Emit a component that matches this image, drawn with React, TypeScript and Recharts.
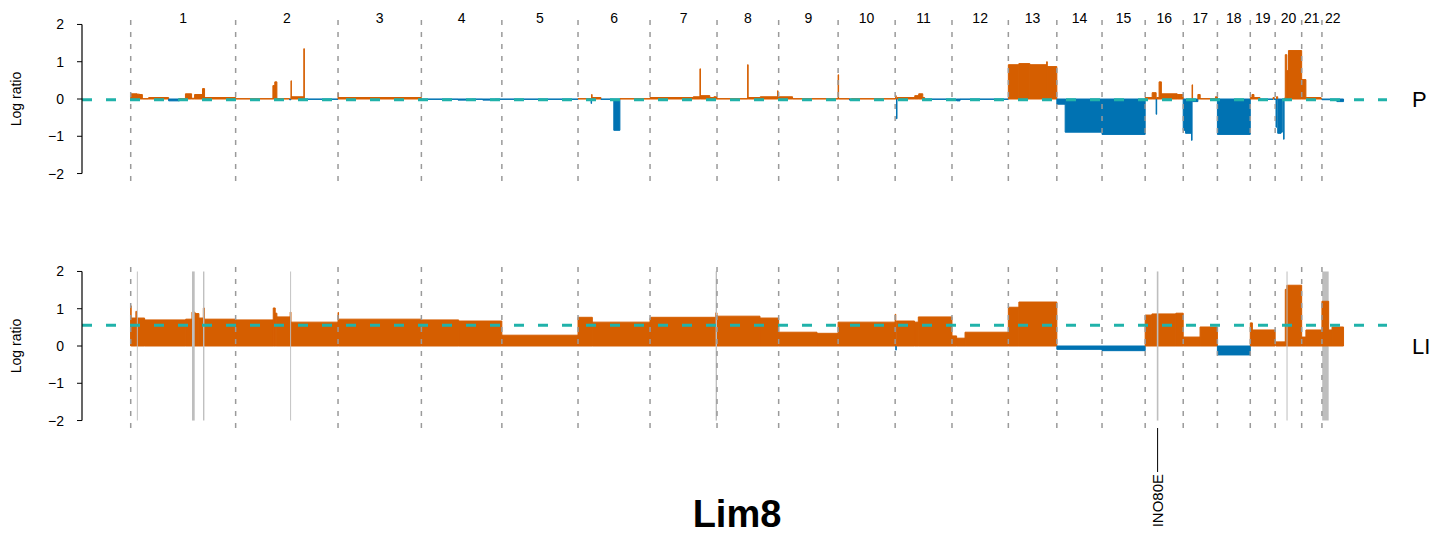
import React from 'react';
import { ComposedChart, XAxis, YAxis, ReferenceArea, ReferenceLine } from 'recharts';

// ---------- data ----------
const CHROMS = ['1','2','3','4','5','6','7','8','9','10','11','12','13','14','15','16','17','18','19','20','21','22'];
const CHROM_LENGTHS = [249.25, 243.2, 198.0, 191.15, 180.9, 171.1, 159.1, 146.4, 141.2, 135.5, 135.0, 133.85, 115.2, 107.35, 102.5, 90.35, 81.2, 78.1, 59.1, 63.0, 48.1, 51.3];
const Y_TICKS = [-2, -1, 0, 1, 2];
const SAMPLE_NAMES = ['P', 'LI'];
const BASELINES = [-0.02, 0.56];
const TITLE = 'Lim8';

type Seg = [string, number, number, number];
type Region = [string, number, number];

// [chromosome, start Mb, end Mb, log ratio]
const P_SEGMENTS: Seg[] = [
  ['1', 0, 15, 0.14], ['1', 15, 21, 0.13], ['1', 21, 27.7, 0.12], ['1', 27.7, 42.7, 0.01], ['1', 42.7, 90, 0.04],
  ['1', 90, 116, -0.05], ['1', 116, 130, 0.01], ['1', 130, 144.6, 0.14], ['1', 144.6, 151.7, 0.02],
  ['1', 151.7, 170.6, 0.12], ['1', 170.6, 175.4, 0.28], ['1', 175.4, 249.25, 0.04],
  ['2', 0, 88.5, 0.01], ['2', 88.5, 93, 0.36], ['2', 93, 98, 0.46], ['2', 98, 128, 0.01], ['2', 128, 131.5, -0.02],
  ['2', 131.5, 132.3, 0.49], ['2', 132.3, 162, 0.06], ['2', 162, 163.2, 1.35], ['2', 163.2, 243.2, -0.01],
  ['3', 0, 1.2, 0.16], ['3', 1.2, 198, 0.04],
  ['4', 0, 87, -0.01], ['4', 87, 118.5, -0.03], ['4', 118.5, 146, -0.01], ['4', 146, 174, -0.03], ['4', 174, 191.15, -0.01],
  ['5', 0, 180.9, -0.01],
  ['6', 0, 31, 0.01], ['6', 31, 32.2, -0.12], ['6', 32.2, 33.5, 0.12], ['6', 33.5, 54.5, 0.04], ['6', 54.5, 85, -0.01],
  ['6', 85, 99.5, -0.84], ['6', 99.5, 171.1, 0.01],
  ['7', 0, 102.7, 0.04], ['7', 102.7, 118.5, 0.06], ['7', 118.5, 119.7, 0.81], ['7', 119.7, 142, 0.09],
  ['7', 142, 151.7, 0.04], ['7', 151.7, 159.1, 0.06],
  ['8', 0, 72.7, 0.01], ['8', 72.7, 73.9, 0.92], ['8', 73.9, 102.7, 0.04], ['8', 102.7, 143.8, 0.06],
  ['8', 143.8, 145, 0.22], ['8', 145, 146.4, 0.04],
  ['9', 0, 33, 0.06], ['9', 33, 141.2, 0.01],
  ['10', 0, 1.2, 0.65], ['10', 1.2, 27, 0.01], ['10', 27, 32, -0.03], ['10', 32, 135.5, 0.01],
  ['11', 0, 1.2, 0.01], ['11', 1.2, 2.4, 0.09], ['11', 3.2, 4.4, -0.53], ['11', 4.4, 46.6, 0.04], ['11', 46.6, 56, 0.09],
  ['11', 56, 65.6, 0.14], ['11', 65.6, 70, 0.04], ['11', 70, 135, -0.01],
  ['12', 0, 11, -0.03], ['12', 11, 19, -0.05], ['12', 19, 133.85, -0.01],
  ['13', 0, 25, 0.92], ['13', 25, 51, 0.95], ['13', 51, 91, 0.92], ['13', 91, 92.5, 1.0], ['13', 92.5, 115.2, 0.87],
  ['14', 0, 19.8, -0.14], ['14', 19.8, 107.35, -0.89],
  ['15', 0, 102.5, -0.95],
  ['16', 0, 16.6, 0.04], ['16', 16.6, 26, 0.17], ['16', 26, 27.3, -0.41], ['16', 27.3, 33, 0.04], ['16', 33, 38.5, 0.46],
  ['16', 38.5, 76, 0.14], ['16', 76, 90.35, 0.12],
  ['17', 0, 5.5, -0.84], ['17', 5.5, 19.8, -0.92], ['17', 19.8, 21, -1.11], ['17', 21, 22.2, 0.38],
  ['17', 22.2, 34.8, -0.07], ['17', 34.8, 40.3, 0.12], ['17', 40.3, 76.6, 0.01], ['17', 76.6, 81.2, 0.06],
  ['18', 0, 78.1, -0.95],
  ['19', 0, 4, 0.04], ['19', 4, 8.7, 0.12], ['19', 8.7, 23, 0.04], ['19', 23, 54, -0.01], ['19', 54, 57, 0.04], ['19', 57, 59.1, -0.01],
  ['20', 0, 2, -0.01], ['20', 2, 3.2, -0.76], ['20', 3.2, 6, 0.06], ['20', 6, 14, -0.92], ['20', 14, 17, -0.89],
  ['20', 17, 20, -0.02], ['20', 20, 21.2, -1.08], ['20', 21.2, 24, 0.02], ['20', 24, 27.7, 1.19],
  ['20', 27.7, 31.6, 0.76], ['20', 31.6, 63, 1.3],
  ['21', 0, 10, 0.52], ['21', 10, 46, 0.04], ['21', 46, 48.1, 0.01],
  ['22', 0, 35.5, -0.02], ['22', 35.5, 51.3, -0.07],
];

const LI_SEGMENTS: Seg[] = [
  ['1', 0, 1, 1.08], ['1', 1, 12.3, 0.75], ['1', 12.3, 14.2, 0.93], ['1', 14.2, 33, 0.75], ['1', 33, 130.7, 0.7],
  ['1', 130.7, 145.5, 0.72], ['1', 145.5, 152.7, 0.91], ['1', 152.7, 162, 0.87], ['1', 162, 172.5, 0.75],
  ['1', 172.5, 175, 1.02], ['1', 175, 249.25, 0.72],
  ['2', 0, 89.3, 0.7], ['2', 89.3, 94, 1.02], ['2', 94, 98, 0.88], ['2', 98, 129.5, 0.78], ['2', 129.5, 131.5, 0.91],
  ['2', 131.5, 243.2, 0.64],
  ['3', 0, 1.2, 0.9], ['3', 1.2, 198, 0.72],
  ['4', 0, 88.6, 0.7], ['4', 88.6, 191.15, 0.67],
  ['5', 0, 180.9, 0.29],
  ['6', 0, 34, 0.77], ['6', 34, 171.1, 0.64],
  ['7', 0, 2, 0.74], ['7', 2, 156, 0.77], ['7', 156, 159.1, 0.89],
  ['8', 0, 102, 0.8], ['8', 102, 146.4, 0.75],
  ['9', 0, 91, 0.37], ['9', 91, 141.2, 0.34],
  ['10', 0, 135.5, 0.64],
  ['11', 0, 1.5, 0.85], ['11', 1.5, 2.7, -0.11], ['11', 2.7, 46, 0.67], ['11', 46, 55, 0.64], ['11', 55, 135, 0.78],
  ['12', 0, 11, 0.27], ['12', 11, 31, 0.21], ['12', 31, 133.85, 0.37],
  ['13', 0, 25, 1.04], ['13', 25, 115.2, 1.18],
  ['14', 0, 107.35, -0.09],
  ['15', 0, 102.5, -0.125],
  ['16', 0, 16, 0.83], ['16', 16, 73, 0.86], ['16', 73, 90.35, 0.88],
  ['17', 0, 40, 0.24], ['17', 40, 81.2, 0.51],
  ['18', 0, 78.1, -0.24],
  ['19', 0, 5, 0.62], ['19', 5, 59.1, 0.43],
  ['20', 1.5, 24, 0.11], ['20', 24, 27.7, 1.52], ['20', 27.7, 63, 1.63],
  ['21', 0, 10, 0.24], ['21', 10, 48.1, 0.43],
  ['22', 0, 16, 1.2], ['22', 16, 24, 0.43], ['22', 24, 51.3, 0.51],
];

// grey marks spanning -2..2 in the LI panel: [chromosome, start Mb, end Mb]
const LI_MARKS: Region[] = [
  ['1', 14.6, 16.8], ['1', 145.6, 152], ['1', 171.8, 175], ['2', 129.5, 131.7],
  ['7', 155.8, 159.1], ['16', 27.6, 31.4], ['20', 27, 29.4],
];
const LI_BANDS: Region[] = [['22', 0.7, 16]];
const LI_GENES = [{ name: 'INO80E', chrom: '16', pos: 29.5 }];

// ---------- layout ----------
const W = 1447;
const H = 536;
const X_DOMAIN: [number, number] = [-115.7, 2984.1];
const Y_DOMAIN: [number, number] = [-2.2, 2.2];
const ORANGE = '#D55E00';
const BLUE = '#0072B2';
const GREY = '#BEBEBE';
const TEAL = '#20B2AA';
const CHR_LINE = '#9A9A9A';
const FONT = '"Liberation Sans", Arial, Helvetica, sans-serif';

const CHROM_STARTS: Record<string, number> = {};
{
  let acc = 0;
  CHROMS.forEach((c, i) => { CHROM_STARTS[c] = acc; acc += CHROM_LENGTHS[i]; });
}
const gpos = (c: string, mb: number) => CHROM_STARTS[c] + mb;
const fmtTick = (v: number) => (v < 0 ? `\u2212${-v}` : `${v}`);

const GeneLabel = (props: any) => {
  const { viewBox, name } = props;
  if (!viewBox) return null;
  const x = viewBox.x;
  const yb = viewBox.y + viewBox.height;
  return (
    <g>
      <line x1={x} x2={x} y1={yb} y2={yb + 44} stroke="#000" strokeWidth={1} />
      <text x={x} y={yb + 46} transform={`rotate(-90 ${x} ${yb + 46})`} textAnchor="end"
        dominantBaseline="central" fontSize={15} fill="#000" fontFamily={FONT}>{name}</text>
    </g>
  );
};

type PanelProps = {
  top: number; height: number; margin: any; segments: Seg[]; baseline: number; name: string;
  marks?: Region[]; bands?: Region[]; genes?: { name: string; chrom: string; pos: number }[]; chromLabels?: boolean;
};

function Panel({ top, height, margin, segments, baseline, name, marks = [], bands = [], genes = [], chromLabels }: PanelProps) {
  return (
    <div style={{ position: 'absolute', left: 0, top, width: W, height }}>
      <ComposedChart width={W} height={height} margin={margin}>
        <XAxis type="number" dataKey="x" domain={X_DOMAIN} hide allowDataOverflow />
        <YAxis type="number" domain={Y_DOMAIN} ticks={Y_TICKS} interval={0} allowDataOverflow width={82}
          axisLine={false} tickLine={{ stroke: '#000', strokeWidth: 1 }} tickSize={5} tickMargin={13}
          tickFormatter={fmtTick} tick={{ fontSize: 14, fill: '#000', fontFamily: FONT }}
          label={{ value: 'Log ratio', angle: -90, position: 'insideLeft', offset: 16, textAnchor: 'middle',
            style: { textAnchor: 'middle' }, fontSize: 14, fill: '#000', fontFamily: FONT }} />
        {chromLabels && CHROMS.map((c, i) => (
          <ReferenceArea key={`lab${c}`} x1={CHROM_STARTS[c]} x2={CHROM_STARTS[c] + CHROM_LENGTHS[i]}
            fill="none" stroke="none" ifOverflow="visible"
            label={{ value: c, position: 'insideTop', offset: -3.5, fontSize: 14, fill: '#000', fontFamily: FONT }} />
        ))}
        {bands.map(([c, s, e], i) => (
          <ReferenceArea key={`band${i}`} x1={gpos(c, s)} x2={gpos(c, e)} y1={-2} y2={2}
            fill={GREY} fillOpacity={1} stroke="none" ifOverflow="visible" />
        ))}
        {segments.map(([c, s, e, v], i) => {
          const col = v >= 0 ? ORANGE : BLUE;
          return (
            <ReferenceArea key={`seg${i}`} x1={gpos(c, s)} x2={gpos(c, e)} y1={0} y2={v}
              fill={col} fillOpacity={1} stroke={col} strokeWidth={1} ifOverflow="visible" />
          );
        })}
        {marks.map(([c, s, e], i) => (
          <ReferenceArea key={`mark${i}`} x1={gpos(c, s)} x2={gpos(c, e)} y1={-2} y2={2}
            fill={GREY} fillOpacity={1} stroke="none" ifOverflow="visible" />
        ))}
        {CHROMS.map((c) => (
          <ReferenceLine key={`chr${c}`} x={CHROM_STARTS[c]} stroke={CHR_LINE} strokeWidth={1.5}
            strokeDasharray="5 7" ifOverflow="visible" />
        ))}
        <ReferenceLine y={baseline} stroke={TEAL} strokeWidth={3} strokeDasharray="10 14" ifOverflow="visible" />
        <ReferenceLine segment={[{ x: X_DOMAIN[0], y: -2 }, { x: X_DOMAIN[0], y: 2 }]} stroke="#000"
          strokeWidth={1.2} ifOverflow="visible" />
        <ReferenceLine y={0} stroke="none" ifOverflow="visible"
          label={{ value: name, position: 'right', offset: 25, fontSize: 22, fill: '#000', fontFamily: FONT }} />
        {genes.map((g) => (
          <ReferenceLine key={g.name} x={gpos(g.chrom, g.pos)} stroke="none" ifOverflow="visible"
            label={<GeneLabel name={g.name} />} />
        ))}
      </ComposedChart>
    </div>
  );
}

export default function App() {
  return (
    <div style={{ position: 'absolute', left: 0, top: 0, width: W, height: H, background: '#fff', fontFamily: FONT }}>
      <Panel top={0} height={200} margin={{ top: 17, right: 60, bottom: 19, left: 0 }}
        segments={P_SEGMENTS} baseline={BASELINES[0]} name={SAMPLE_NAMES[0]} chromLabels />
      <Panel top={246} height={290} margin={{ top: 18, right: 60, bottom: 108, left: 0 }}
        segments={LI_SEGMENTS} baseline={BASELINES[1]} name={SAMPLE_NAMES[1]}
        marks={LI_MARKS} bands={LI_BANDS} genes={LI_GENES} />
      <svg width={W} height={H} style={{ position: 'absolute', left: 0, top: 0, pointerEvents: 'none' }}>
        <text x={737} y={527} textAnchor="middle" fontWeight="bold" fontSize={38} fill="#000" fontFamily={FONT}>{TITLE}</text>
      </svg>
    </div>
  );
}
